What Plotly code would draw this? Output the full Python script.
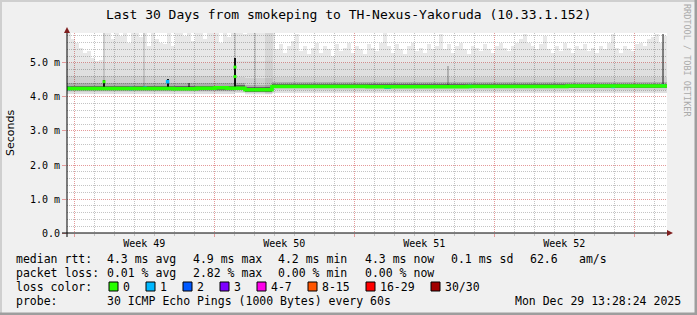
import plotly.graph_objects as go
import pandas as pd

# ---------------- data ----------------
TITLE = "Last 30 Days from smokeping to TH-Nexus-Yakoruda (10.33.1.152)"
T_START = pd.Timestamp("2025-11-29 15:14:00")
T_END = pd.Timestamp("2025-12-29 15:14:00")
BIN_DAYS = 0.2

# upper edge of the outer smoke (max rtt, ms) per 4.8 h bin
smoke_max = [
    6.0, 5.7, 5.6, 5.45, 5.3, 5.35, 5.15, 5.05, 5.1, 6.0,
    6.0, 5.7, 6.0, 5.8, 6.0, 5.6, 6.0, 6.0, 5.75, 6.0,
    5.5, 5.9, 5.7, 5.6, 5.55, 6.0, 5.5, 6.0, 6.0, 5.8,
    6.0, 5.65, 6.0, 6.0, 5.7, 6.0, 5.9, 6.0, 5.6, 6.0,
    5.75, 6.0, 6.0, 6.0, 5.85, 6.0, 6.0, 6.0, 6.0, 6.0,
    6.0, 6.0, 5.4, 5.55, 5.3, 5.5, 5.65, 5.85, 5.35, 5.5,
    5.25, 5.45, 5.6, 5.3, 5.5, 5.4, 5.2, 5.55, 5.35, 5.45,
    5.6, 5.3, 5.5, 5.4, 5.25, 5.55, 5.45, 5.35, 5.6, 5.9,
    5.5, 5.3, 5.55, 5.4, 5.25, 5.5, 5.6, 5.35, 5.45, 5.3,
    5.55, 5.4, 5.5, 5.85, 5.4, 5.55, 5.3, 5.5, 5.6, 5.4,
    5.25, 5.5, 5.45, 5.35, 5.55, 5.4, 5.3, 5.5, 5.6, 5.45,
    5.35, 5.5, 5.6, 5.7, 5.85, 5.6, 5.5, 5.4, 5.55, 5.8,
    5.4, 5.3, 5.5, 5.35, 5.6, 5.45, 5.3, 5.5, 5.4, 5.55,
    5.35, 5.45, 5.3, 5.5, 5.4, 5.6, 5.85, 5.45, 5.3, 5.5,
    5.4, 5.35, 5.55, 5.6, 5.5, 5.7, 5.75, 5.85, 5.6, 5.8,
]

# smoke percentile bands per period (days from start, ms)
period_start = [0.0, 8.4, 8.9, 10.25]
period_end = [8.4, 8.9, 10.25, 30.0]
smoke_low = [4.10, 4.12, 4.05, 4.12]
outer_hi = [5.00, 5.05, 5.05, 5.00]
mid_low = [4.15, 4.16, 4.10, 4.20]
mid_hi = [4.62, 4.60, 4.55, 4.60]
inner_low = [4.19, 4.20, 4.14, 4.25]
inner_hi = [4.42, 4.42, 4.36, 4.45]
core_low = [4.20, 4.21, 4.16, 4.26]
core_hi = [4.33, 4.34, 4.29, 4.39]

# median rtt steps
median_day = [0.0, 5.3, 6.5, 7.4, 8.0, 8.9, 10.25, 15.0, 20.0, 25.0, 30.0]
median_ms = [4.25, 4.24, 4.26, 4.27, 4.26, 4.21, 4.31, 4.30, 4.31, 4.32, 4.32]

# high-variance columns
spike_day = [1.85, 5.03, 8.4]
spike_lo = [4.20, 4.20, 4.20]
spike_hi = [4.50, 4.52, 5.15]
thin_spike_day = [6.1, 29.8]
thin_spike_lo = [4.22, 4.30]
thin_spike_hi = [4.40, 5.85]
faint_spike_day = [19.05]
faint_spike_lo = [4.30]
faint_spike_hi = [4.90]
streak_day = [1.85, 3.85, 8.4, 9.4]
streak_lo = [4.30, 4.30, 4.30, 4.30]
streak_hi = [5.88, 5.88, 5.88, 5.88]
block_start, block_end, block_lo, block_hi = 9.9, 10.3, 4.10, 5.88

# median points with loss 1/30 and raised medians at spikes
loss1_day = [0.1, 3.2, 3.9, 5.03, 10.25, 15.95, 16.1, 20.15, 27.3, 29.8]
loss1_ms = [4.25, 4.25, 4.26, 4.45, 4.27, 4.29, 4.29, 4.31, 4.31, 4.33]
spike_med_day = [1.85, 8.4, 8.4]
spike_med_ms = [4.45, 4.88, 4.60]

week_mid = ["2025-12-03 12:00", "2025-12-10 12:00", "2025-12-17 12:00", "2025-12-24 12:00"]
week_labels = ["Week 49", "Week 50", "Week 51", "Week 52"]
ytick_vals = [0, 1, 2, 3, 4, 5]
ytick_text = ["0.0", "1.0 m", "2.0 m", "3.0 m", "4.0 m", "5.0 m"]

stat_rows = [
    ["median rtt:", "4.3 ms avg", "4.9 ms max", "4.2 ms min", "4.3 ms now", "0.1 ms sd", "62.6", "am/s"],
    ["packet loss:", "0.01 % avg", "2.82 % max", "0.00 % min", "0.00 % now"],
]
loss_labels = ["0", "1", "2", "3", "4-7", "8-15", "16-29", "30/30"]
loss_colors = ["#26ff00", "#00b8ff", "#0059ff", "#7e00ff", "#ff00ea", "#ff5500", "#ff0000", "#a10000"]
probe_text = "30 ICMP Echo Pings (1000 Bytes) every 60s"
stamp_text = "Mon Dec 29 13:28:24 2025"

# ---------------- figure ----------------
MONO = "DejaVu Sans Mono"
DAY_MS = 86400000
W, H = 697, 315
L, R, T, B = 67, 30, 33, 82
PW, PH = W - L - R, H - T - B


def at(d):
    return T_START + pd.to_timedelta(d, unit="D")


def xp(px):
    return (px - L) / PW


def yp(py):
    return (T + PH - py) / PH


fig = go.Figure()


def band(x0, x1, lo, hi, color):
    fig.add_trace(go.Bar(
        x=[at((a + b) / 2) for a, b in zip(x0, x1)],
        y=[h - l for l, h in zip(lo, hi)], base=lo,
        width=[(b - a) * DAY_MS for a, b in zip(x0, x1)],
        marker=dict(color=color, line=dict(width=0)),
        hoverinfo="skip", showlegend=False))


# outer smoke (max)
n = len(smoke_max)
bx0 = [i * BIN_DAYS for i in range(n)]
bx1 = [(i + 1) * BIN_DAYS for i in range(n)]
blo = [smoke_low[0] if i * BIN_DAYS < period_end[0] else smoke_low[3] for i in range(n)]
band(bx0, bx1, blo, smoke_max, "rgba(0,0,0,0.09)")
band(period_start, period_end, smoke_low, outer_hi, "rgba(0,0,0,0.035)")
band([block_start], [block_end], [block_lo], [block_hi], "rgba(0,0,0,0.07)")
band([d - 0.04 for d in streak_day], [d + 0.04 for d in streak_day], streak_lo, streak_hi, "rgba(0,0,0,0.12)")
band(period_start, period_end, mid_low, mid_hi, "rgba(0,0,0,0.07)")
band(period_start, period_end, inner_low, inner_hi, "rgba(0,0,0,0.16)")
band(period_start, period_end, core_low, core_hi, "rgba(0,0,0,0.42)")
band([d - 0.04 for d in thin_spike_day], [d + 0.04 for d in thin_spike_day], thin_spike_lo, thin_spike_hi, "rgba(0,0,0,0.45)")
band([d - 0.04 for d in faint_spike_day], [d + 0.04 for d in faint_spike_day], faint_spike_lo, faint_spike_hi, "rgba(0,0,0,0.2)")

# median line
fig.add_trace(go.Scatter(
    x=[at(d) for d in median_day], y=median_ms, mode="lines",
    line=dict(color="#26ff00", width=3.5, shape="hv"),
    hoverinfo="skip", showlegend=False, xaxis="x2"))

band([d - 0.05 for d in spike_day], [d + 0.05 for d in spike_day], spike_lo, spike_hi, "#111111")

fig.add_trace(go.Scatter(
    x=[at(d) for d in spike_med_day], y=spike_med_ms, mode="markers",
    marker=dict(symbol="square", size=3, color="#26ff00", line=dict(width=0)),
    hoverinfo="skip", showlegend=False))
fig.add_trace(go.Scatter(
    x=[at(d) for d in loss1_day], y=loss1_ms, mode="markers",
    marker=dict(symbol="square", size=3.5, color="#00b8ff", line=dict(width=0)),
    hoverinfo="skip", showlegend=False))

GRID_MIN = "#c4c4c4"
GRID_MAJ = "#e49a9a"
DOT = "1px,1px"

fig.update_layout(
    width=W, height=H,
    margin=dict(l=L, r=R, t=T, b=B),
    paper_bgcolor="#f0f0f0", plot_bgcolor="#ffffff",
    barmode="overlay", bargap=0,
    font=dict(family=MONO, size=10, color="#000000"),
    xaxis=dict(
        type="date", range=[T_START, T_END],
        tick0="2025-11-30", dtick=7 * DAY_MS,
        showgrid=True, gridcolor=GRID_MAJ, griddash=DOT, gridwidth=1,
        ticks="outside", ticklen=3, tickcolor=GRID_MAJ,
        showticklabels=False, showline=False, zeroline=False,
        minor=dict(tick0="2025-11-30", dtick=DAY_MS, showgrid=True,
                   gridcolor=GRID_MIN, griddash=DOT, ticks="outside",
                   ticklen=2, tickcolor=GRID_MIN),
    ),
    xaxis2=dict(
        type="date", range=[T_START, T_END], overlaying="x", anchor="y", side="bottom",
        tickmode="array", tickvals=week_mid, ticktext=week_labels,
        showgrid=False, ticks="", showline=False, zeroline=False,
        ticklabelstandoff=3,
        tickfont=dict(family=MONO, size=10),
    ),
    yaxis=dict(
        range=[0, 5.882], tickmode="array", tickvals=ytick_vals, ticktext=ytick_text,
        showgrid=True, gridcolor=GRID_MAJ, griddash=DOT,
        ticks="outside", ticklen=4, tickcolor=GRID_MAJ,
        showline=False, zeroline=False,
        tickfont=dict(family=MONO, size=10),
        minor=dict(dtick=0.2, showgrid=True, gridcolor=GRID_MIN, griddash=DOT),
    ),
)

PAPER = dict(xref="paper", yref="paper")
shapes = [
    dict(type="line", x0=xp(62), x1=xp(668), y0=yp(233), y1=yp(233), line=dict(color="#000000", width=1), **PAPER),
    dict(type="line", x0=xp(67), x1=xp(67), y0=yp(237), y1=yp(32), line=dict(color="#000000", width=1), **PAPER),
    dict(type="path", path=f"M {xp(667)} {yp(230)} L {xp(673)} {yp(233)} L {xp(667)} {yp(236)} Z",
         fillcolor="#7f1f1f", line=dict(width=0), **PAPER),
    dict(type="path", path=f"M {xp(64)} {yp(33)} L {xp(67)} {yp(27)} L {xp(70)} {yp(33)} Z",
         fillcolor="#7f1f1f", line=dict(width=0), **PAPER),
    # frame shading
    dict(type="rect", x0=xp(0), x1=xp(2), y0=yp(0), y1=yp(H), fillcolor="#cfcfcf", line=dict(width=0), layer="below", **PAPER),
    dict(type="rect", x0=xp(0), x1=xp(W), y0=yp(0), y1=yp(2), fillcolor="#cfcfcf", line=dict(width=0), layer="below", **PAPER),
    dict(type="rect", x0=xp(W - 2.5), x1=xp(W), y0=yp(0), y1=yp(H), fillcolor="#9e9e9e", line=dict(width=0), layer="below", **PAPER),
    dict(type="rect", x0=xp(0), x1=xp(W), y0=yp(H - 2.5), y1=yp(H), fillcolor="#9e9e9e", line=dict(width=0), layer="below", **PAPER),
]

box_x = [109, 146, 183, 220, 257, 308, 366, 431]
for bx, c in zip(box_x, loss_colors):
    shapes.append(dict(type="rect", x0=xp(bx), x1=xp(bx + 9), y0=yp(282), y1=yp(291),
                       fillcolor=c, line=dict(color="#000000", width=1), **PAPER))
fig.update_layout(shapes=shapes)

anns = []


def ann(text, px, py, size=11.5, anchor="left", color="#000000", angle=0, family=MONO):
    anns.append(dict(text=text, x=xp(px), y=yp(py), xref="paper", yref="paper",
                     xanchor=anchor, yanchor="middle", showarrow=False,
                     textangle=angle, borderpad=0, borderwidth=0,
                     font=dict(family=family, size=size, color=color)))


ann(TITLE, 348.5, 14, size=13, anchor="center")
ann("Seconds", 10, 133, size=11, anchor="center", angle=-90, family="DejaVu Sans")
ann("RRDTOOL / TOBI OETIKER", 687, 60, size=8.5, anchor="center", angle=90, color="#aaaaaa")

col_x = [16, 107, 193, 278, 365, 451, 530, 579]
row_y = [259, 273]
for ry, row in zip(row_y, stat_rows):
    for cx, txt in zip(col_x, row):
        ann(txt, cx, ry)
ann("loss color:", 16, 287)
for bx, lab in zip(box_x, loss_labels):
    ann(lab, bx + 14, 287)
ann("probe:", 16, 301)
ann(probe_text, 107, 301)
ann(stamp_text, 681, 301, anchor="right")

fig.update_layout(annotations=anns)
fig.write_html("out.html")
